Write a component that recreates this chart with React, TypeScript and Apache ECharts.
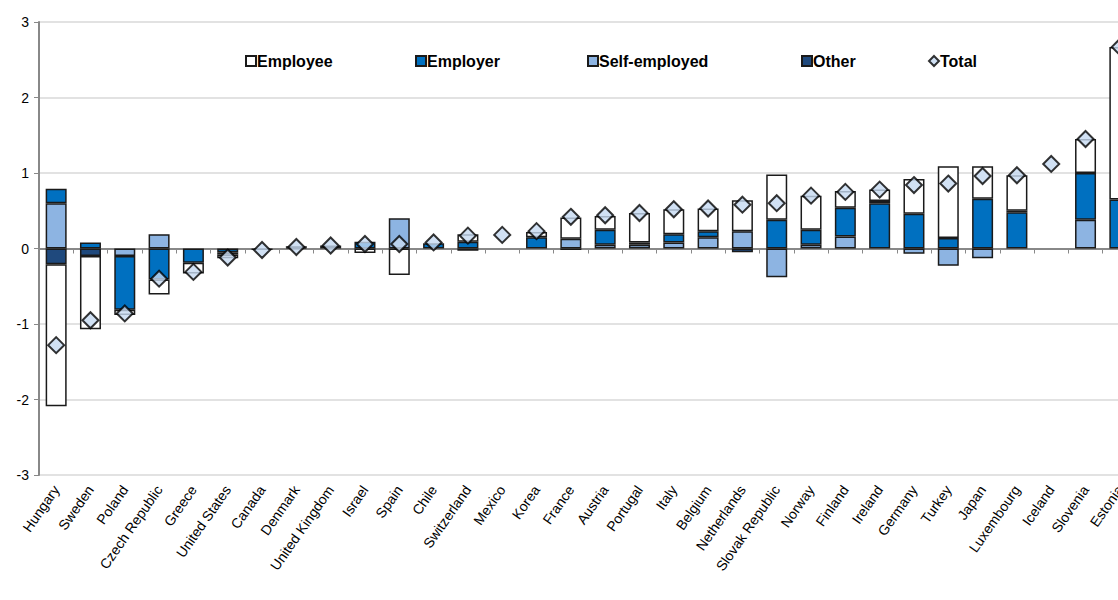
import React, { useEffect, useRef } from "react";
import * as echarts from "echarts";

const categories = ["Hungary","Sweden","Poland","Czech Republic","Greece","United States","Canada","Denmark","United Kingdom","Israel","Spain","Chile","Switzerland","Mexico","Korea","France","Austria","Portugal","Italy","Belgium","Netherlands","Slovak Republic","Norway","Finland","Ireland","Germany","Turkey","Japan","Luxembourg","Iceland","Slovenia","Estonia"];
const selfEmployed = [0.6,0,-0.1,0.19,0,0,0,0,0,0,0.4,0,0,0,0,0.13,0.05,0.05,0.08,0.15,0.23,-0.38,0.05,0.16,0,-0.07,-0.23,-0.13,0,0,0.38,0];
const employer = [0.19,0.08,-0.71,-0.41,-0.19,-0.05,0,0.01,0.04,0.09,0,0.07,0.09,0,0.15,0,0.2,0,0.11,0.08,0,0.38,0.2,0.38,0.6,0.46,0.14,0.66,0.48,0,0.62,0.65];
const other = [-0.21,-0.1,0,0,0,-0.03,0,0,0,0,0,0,-0.03,0,0,-0.02,0,0.03,0,0,-0.05,0,0,0,0.03,0,0,0,0.02,0,0,0];
const employee = [-1.88,-0.97,-0.07,-0.2,-0.14,-0.05,-0.02,0.02,0,-0.06,-0.35,0,0.1,0,0.07,0.28,0.18,0.39,0.33,0.3,0.41,0.6,0.45,0.22,0.15,0.46,0.95,0.43,0.47,0,0.45,2.02];
const total = [-1.28,-0.95,-0.86,-0.4,-0.31,-0.12,-0.02,0.02,0.04,0.06,0.06,0.08,0.17,0.18,0.23,0.42,0.44,0.47,0.52,0.53,0.58,0.6,0.7,0.75,0.78,0.84,0.86,0.96,0.97,1.12,1.45,2.67];

export default function App() {
  const ref = useRef<HTMLDivElement>(null);
  useEffect(() => {
    const chart = echarts.init(ref.current!, undefined, { renderer: "svg" });
    const bar = (name: string, data: number[], color: string) => ({
      name, type: "bar", stack: "s", data: data.map((v) => (v === 0 ? null : v)), barWidth: 21,
      itemStyle: { color, borderColor: "#1a1a1a", borderWidth: 1.5 },
    });
    const leg = (name: string, left: number) => ({
      data: [name], left, top: 48, itemWidth: 10, itemHeight: 10, icon: name === "Total" ? "diamond" : "rect",
      textStyle: { fontFamily: "Liberation Sans", fontWeight: "bold", fontSize: 16, color: "#000", padding: [0, 0, 0, -4] },
    });
    chart.setOption({
      animation: false,
      textStyle: { fontFamily: "Liberation Sans" },
      legend: [leg("Employee", 240), leg("Employer", 410), leg("Self-employed", 582), leg("Other", 796), leg("Total", 923)],
      grid: { left: 39, right: 3, top: 22, bottom: 125 },
      xAxis: {
        type: "category", data: categories,
        axisLine: { onZero: true, lineStyle: { color: "#888", width: 2 } },
        axisTick: { show: true, alignWithLabel: false, length: 5, lineStyle: { color: "#888" } },
        axisLabel: { rotate: 55, interval: 0, fontSize: 14, color: "#000", margin: 12 },
      },
      yAxis: {
        type: "value", min: -3, max: 3, interval: 1,
        axisLine: { show: true, lineStyle: { color: "#888", width: 2 } },
        axisTick: { show: true, lineStyle: { color: "#888" } },
        splitLine: { lineStyle: { color: "#d9d9d9", width: 1.5 } },
        axisLabel: { fontSize: 14, color: "#000", margin: 10 },
      },
      series: [
        bar("Self-employed", selfEmployed, "#8db4e2"),
        bar("Employer", employer, "#0070c0"),
        bar("Other", other, "#1f497d"),
        bar("Employee", employee, "#ffffff"),
        {
          name: "Total", type: "scatter", data: total, symbol: "diamond", symbolSize: 16, z: 5,
          itemStyle: { color: "#c5d9f1", borderColor: "#000", borderWidth: 2 },
        },
      ],
    });
    return () => chart.dispose();
  }, []);
  return (
    <div style={{ position: "absolute", left: 0, top: 0, width: 1118, height: 600, overflow: "hidden" }}>
      <div ref={ref} style={{ width: 1140, height: 600 }} />
    </div>
  );
}
